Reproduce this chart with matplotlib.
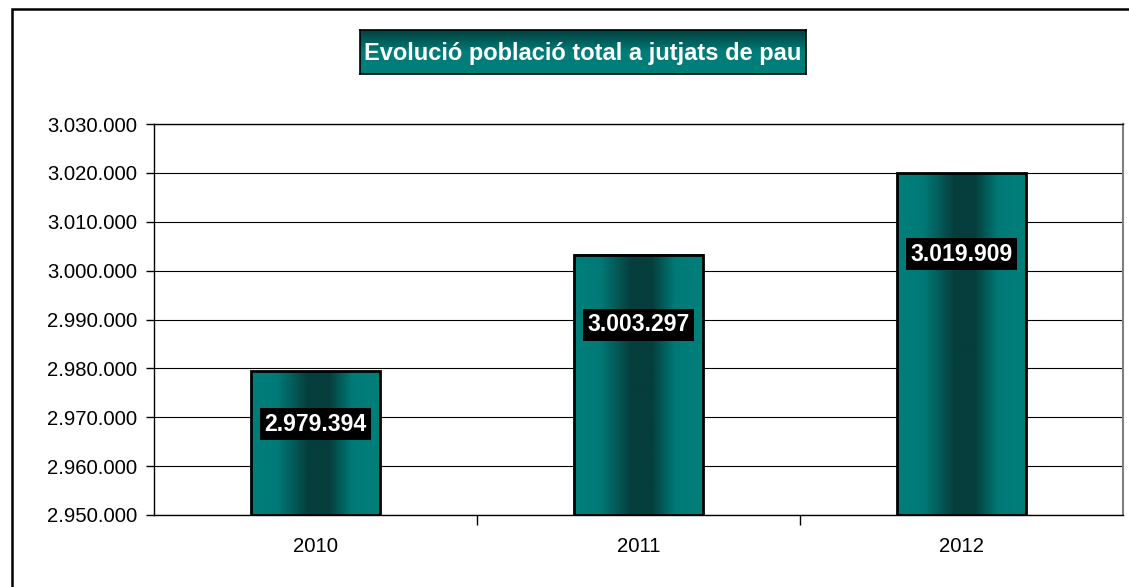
import matplotlib.pyplot as plt
from matplotlib.colors import LinearSegmentedColormap
from matplotlib.patches import Rectangle
from matplotlib.ticker import FuncFormatter
import numpy as np

plt.rcParams['font.family'] = ['Liberation Sans', 'DejaVu Sans']

years = ['2010', '2011', '2012']
population = [2979394, 3003297, 3019909]
# where Excel put the value labels (data units)
label_y = [2968600, 2988900, 3003400]
title = 'Evolució població total a jutjats de pau'


def dots(v, pos=None):
    return f'{int(v):,}'.replace(',', '.')


fig = plt.figure(figsize=(11.29, 5.87), dpi=100)

# outer chart border (runs off the right and bottom edges)
fig.patches.append(Rectangle((12 / 1129, -0.05), 1.2, 1 - 9 / 587 + 0.05,
                             transform=fig.transFigure, fill=False,
                             edgecolor='black', linewidth=1.8))

ax = fig.add_axes([154 / 1129, 72 / 587, 969 / 1129, 391 / 587])

bar_cmap = LinearSegmentedColormap.from_list(
    'bar', [(0, '#007f7b'), (0.2, '#007a77'), (0.44, '#053e3c'),
            (0.6, '#053e3c'), (0.78, '#007a77'), (1, '#007f7b')])
grad = np.linspace(0, 1, 256).reshape(1, -1)

x = np.arange(len(years))
width = 0.40
ymin, ymax = 2950000, 3030000

for xi, v in zip(x, population):
    ax.imshow(grad, cmap=bar_cmap, aspect='auto', zorder=2,
              extent=(xi - width / 2, xi + width / 2, ymin, v))
bars = ax.bar(x, [v - ymin for v in population], width, bottom=ymin,
              facecolor='none', edgecolor='black', linewidth=2, zorder=3)

for xi, v, ly in zip(x, population, label_y):
    ax.text(xi, ly, dots(v), ha='center', va='center', color='white',
            fontsize=16.6, fontweight='bold', zorder=4,
            bbox=dict(facecolor='black', edgecolor='none', pad=3.5))

ax.set_xlim(-0.5, 2.5)
ax.set_ylim(ymin, ymax)
ax.set_yticks(np.arange(ymin, ymax + 1, 10000))
ax.yaxis.set_major_formatter(FuncFormatter(dots))
ax.yaxis.grid(True, color='black', linewidth=0.8)
ax.set_axisbelow(True)

ax.set_xticks(x)
ax.set_xticklabels(years)
ax.set_xticks([0.5, 1.5], minor=True)
ax.tick_params(axis='x', which='major', length=0, pad=16, labelsize=14.6)
ax.tick_params(axis='x', which='minor', length=7, width=1, color='black')
ax.tick_params(axis='y', length=6, width=1, pad=6, labelsize=14.6)

for s in ['left', 'bottom', 'top']:
    ax.spines[s].set_color('black')
    ax.spines[s].set_linewidth(1)
ax.spines['right'].set_color('#808080')
ax.spines['right'].set_linewidth(1.5)

# title box with vertical gradient
tax = fig.add_axes([360 / 1129, 1 - 74 / 587, 446 / 1129, 44 / 587])
title_cmap = LinearSegmentedColormap.from_list('title', ['#04403e', '#007d79', '#007f7b'])
tax.imshow(np.linspace(0, 1, 64).reshape(-1, 1), cmap=title_cmap, aspect='auto',
           extent=(0, 1, 0, 1), origin='upper')
tax.set_xticks([])
tax.set_yticks([])
for s in tax.spines.values():
    s.set_color('black')
    s.set_linewidth(1.2)
tax.text(0.5, 0.47, title, ha='center', va='center', color='white',
         fontsize=17, fontweight='bold', transform=tax.transAxes)

fig.savefig('out.png', dpi=100)
